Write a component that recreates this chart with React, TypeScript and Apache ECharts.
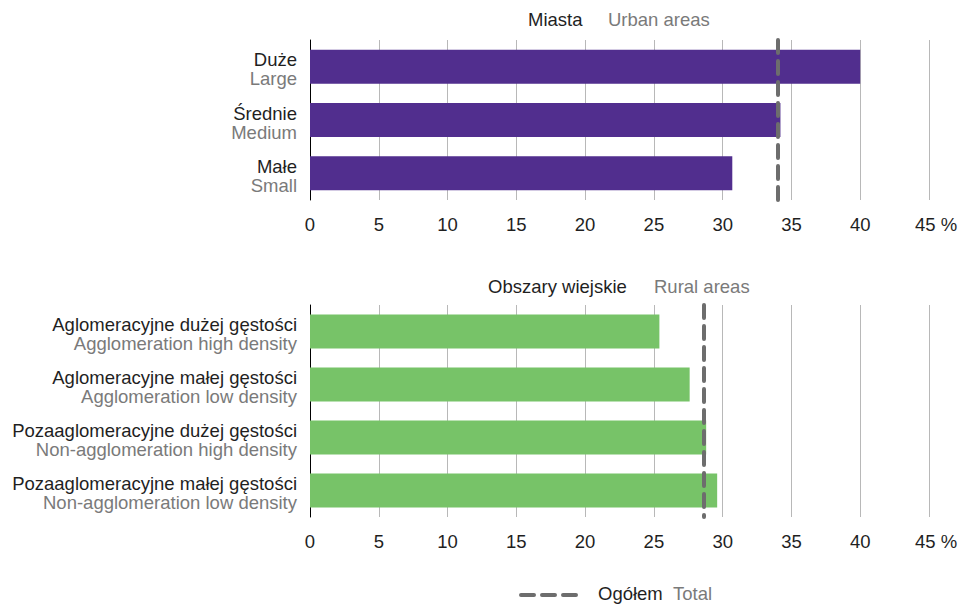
import React, { useEffect, useRef } from "react";
import * as echarts from "echarts";

const urbanPl = ["Duże", "Średnie", "Małe"];
const urbanEn = ["Large", "Medium", "Small"];
const urbanValues = [40.0, 34.2, 30.7];
const urbanTotal = 34.0;

const ruralPl = [
  "Aglomeracyjne dużej gęstości",
  "Aglomeracyjne małej gęstości",
  "Pozaaglomeracyjne dużej gęstości",
  "Pozaaglomeracyjne małej gęstości",
];
const ruralEn = [
  "Agglomeration high density",
  "Agglomeration low density",
  "Non-agglomeration high density",
  "Non-agglomeration low density",
];
const ruralValues = [25.4, 27.6, 28.8, 29.6];
const ruralTotal = 28.6;

const xTicks = { min: 0, max: 45, interval: 5 };

const FONT = "'Liberation Sans', Arial, sans-serif";
const FS = 18.5;
const BLACK = "#1f1f1f";
const GRAY = "#7a7a7a";
const DASH = "#6d6d6d";

export default function App() {
  const ref = useRef<HTMLDivElement>(null);
  useEffect(() => {
    document.body.style.margin = "0";
    const chart = echarts.init(ref.current!, null, { renderer: "svg" });
    const xAxisBase = (gridIndex: number) => ({
      type: "value",
      gridIndex,
      min: xTicks.min,
      max: xTicks.max,
      interval: xTicks.interval,
      axisLine: { show: false },
      axisTick: { show: false },
      splitLine: { show: true, lineStyle: { color: "#b8b8b8", width: 1 } },
      axisLabel: {
        color: BLACK,
        fontSize: FS,
        fontFamily: FONT,
        margin: 15,
        formatter: (v: number) => (v === xTicks.max ? `{m|${v} %}` : `${v}`),
        rich: { m: { fontSize: FS, fontFamily: FONT, color: BLACK, padding: [0, 0, 0, 14] } },
      },
    });
    const yAxisBase = (gridIndex: number, pl: string[], en: string[]) => ({
      type: "category",
      gridIndex,
      inverse: true,
      data: pl,
      axisLine: { show: true, lineStyle: { color: "#000", width: 1 } },
      axisTick: { show: false },
      axisLabel: {
        margin: 13,
        padding: [5, 0, 0, 0],
        formatter: (_v: string, i: number) => `{a|${pl[i]}}\n{b|${en[i]}}`,
        rich: {
          a: { fontSize: FS, fontFamily: FONT, color: BLACK, lineHeight: 19, align: "right" },
          b: { fontSize: FS, fontFamily: FONT, color: GRAY, lineHeight: 19, align: "right" },
        },
      },
    });
    const markLine = (v: number) => ({
      silent: true,
      symbol: "none",
      label: { show: false },
      lineStyle: { color: DASH, width: 4, type: [13, 8], cap: "round" },
      data: [{ xAxis: v }],
    });
    chart.setOption({
      animation: false,
      textStyle: { fontFamily: FONT },
      grid: [
        { left: 310, right: 32, top: 40, height: 160 },
        { left: 310, right: 32, top: 305, height: 212 },
      ],
      xAxis: [xAxisBase(0), xAxisBase(1)],
      yAxis: [yAxisBase(0, urbanPl, urbanEn), yAxisBase(1, ruralPl, ruralEn)],
      series: [
        {
          type: "bar",
          xAxisIndex: 0,
          yAxisIndex: 0,
          data: urbanValues,
          barWidth: 34,
          itemStyle: { color: "#512e8e" },
          markLine: markLine(urbanTotal),
          z: 2,
        },
        {
          type: "bar",
          xAxisIndex: 1,
          yAxisIndex: 1,
          data: ruralValues,
          barWidth: 34,
          itemStyle: { color: "#77c368" },
          markLine: markLine(ruralTotal),
          z: 2,
        },
      ],
      graphic: [
        {
          type: "text",
          left: 528,
          top: 10,
          style: { text: "Miasta", fontSize: FS, fontFamily: FONT, fill: BLACK },
        },
        {
          type: "text",
          left: 608,
          top: 10,
          style: { text: "Urban areas", fontSize: FS, fontFamily: FONT, fill: GRAY },
        },
        {
          type: "text",
          left: 488,
          top: 277,
          style: { text: "Obszary wiejskie", fontSize: FS, fontFamily: FONT, fill: BLACK },
        },
        {
          type: "text",
          left: 654,
          top: 277,
          style: { text: "Rural areas", fontSize: FS, fontFamily: FONT, fill: GRAY },
        },
        {
          type: "line",
          shape: { x1: 521, y1: 595, x2: 578, y2: 595 },
          style: { stroke: DASH, lineWidth: 4, lineDash: [13, 8], lineCap: "round" },
        },
        {
          type: "text",
          left: 598,
          top: 584,
          style: { text: "Ogółem", fontSize: FS, fontFamily: FONT, fill: BLACK },
        },
        {
          type: "text",
          left: 673,
          top: 584,
          style: { text: "Total", fontSize: FS, fontFamily: FONT, fill: GRAY },
        },
      ],
    });
    return () => chart.dispose();
  }, []);
  return <div ref={ref} style={{ width: 961, height: 605 }} />;
}
